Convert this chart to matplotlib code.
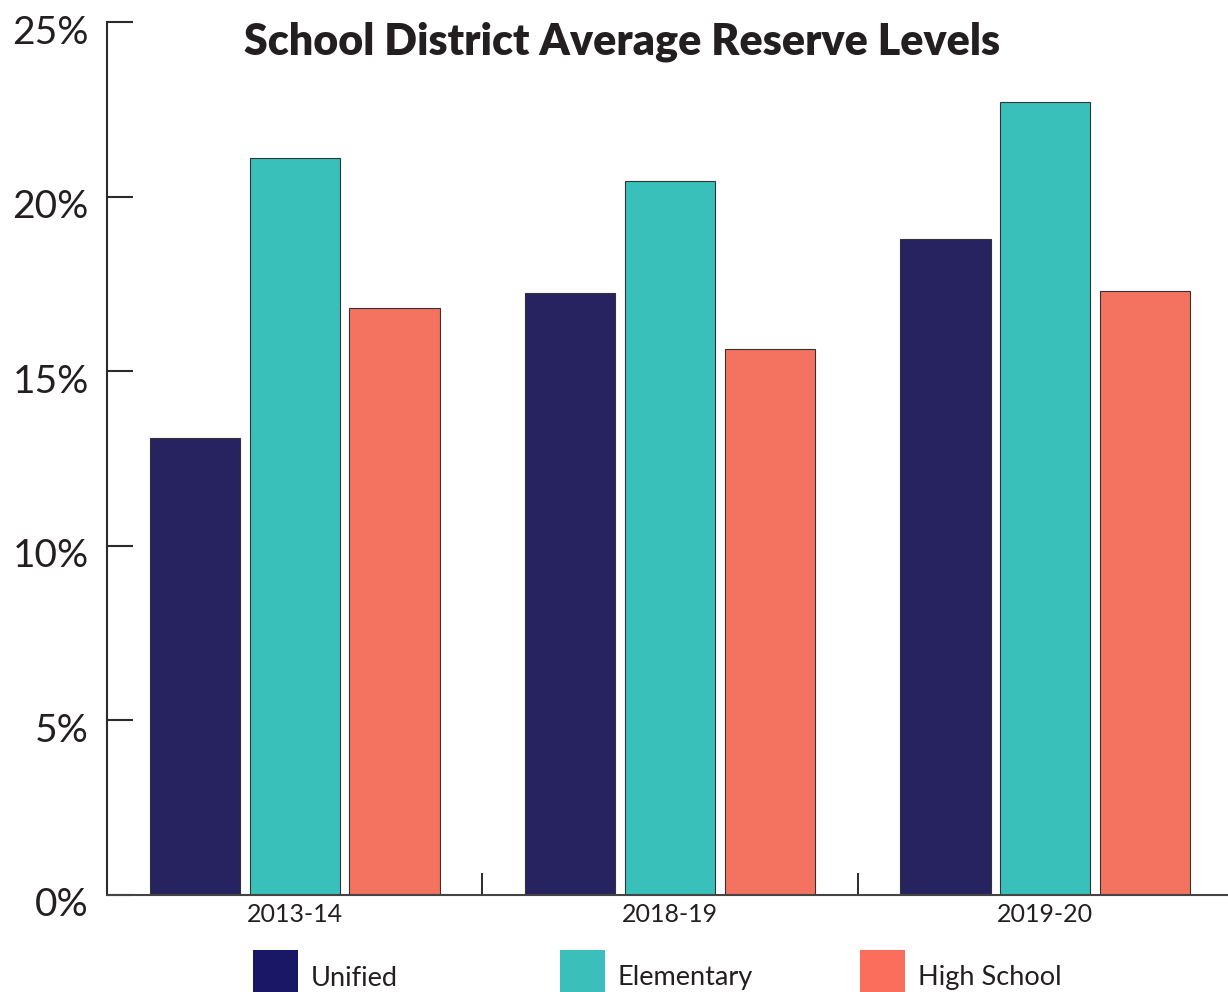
import matplotlib.pyplot as plt
import matplotlib.transforms as mtransforms
from matplotlib.patches import Rectangle
import numpy as np

plt.rcParams['font.family'] = ['Lato', 'DejaVu Sans']

years = ["2013-14", "2018-19", "2019-20"]
series = ["Unified", "Elementary", "High School"]
unified = [13.1, 17.25, 18.8]
elementary = [21.1, 20.45, 22.7]
high_school = [16.8, 15.65, 17.3]

bar_colors = ["#272361", "#3ac0bb", "#f47260"]
legend_colors = ["#1a1866", "#3bbfba", "#fc6e5c"]

fig = plt.figure(figsize=(12.28, 9.92), dpi=100)
ax = fig.add_axes([107 / 1228, 1 - 895 / 992, 1126 / 1228, 873 / 992])

x = np.arange(len(years))
offsets = [-0.266, 0, 0.266]
for vals, off, col in zip([unified, elementary, high_school], offsets, bar_colors):
    ax.bar(x + off, vals, width=0.24, color=col, edgecolor="#333333", linewidth=0.8, zorder=2)

ax.set_xlim(-0.5, 2.5)
ax.set_ylim(0, 25)

for s in ["top", "right"]:
    ax.spines[s].set_visible(False)
ax.spines["left"].set_color("#2b2b2b")
ax.spines["left"].set_linewidth(1.5)
ax.spines["bottom"].set_color("#444444")
ax.spines["bottom"].set_linewidth(1.5)

ax.set_yticks([0, 5, 10, 15, 20, 25])
ax.set_yticklabels(["0%", "5%", "10%", "15%", "20%", "25%"])
ax.tick_params(axis="y", direction="in", length=19, width=1.5, color="#2b2b2b",
               labelsize=28, labelcolor="#231f20", pad=13)
offset = mtransforms.ScaledTranslation(0, -7 / 100, fig.dpi_scale_trans)
for lab in ax.get_yticklabels():
    lab.set_transform(lab.get_transform() + offset)

ax.set_xticks(x)
ax.set_xticklabels(years)
ax.tick_params(axis="x", which="major", length=0, labelsize=18, labelcolor="#231f20", pad=6)
ax.set_xticks([0.5, 1.5], minor=True)
ax.tick_params(axis="x", which="minor", direction="in", length=16, width=1.4, color="#2b2b2b")

fig.text(622 / 1228, 1 - 42 / 992, "School District Average Reserve Levels",
         ha="center", va="center", fontsize=31, fontweight="heavy", color="#231f20")

# legend
lx = [253, 560, 860]
for px, name, col in zip(lx, series, legend_colors):
    fig.add_artist(Rectangle((px / 1228, 0), 45 / 1228, 42 / 992, transform=fig.transFigure,
                             color=col, lw=0))
    fig.text((px + 58) / 1228, 1 - 978 / 992, name, ha="left", va="center",
             fontsize=19.5, color="#231f20")

fig.savefig("out.png", dpi=100)
